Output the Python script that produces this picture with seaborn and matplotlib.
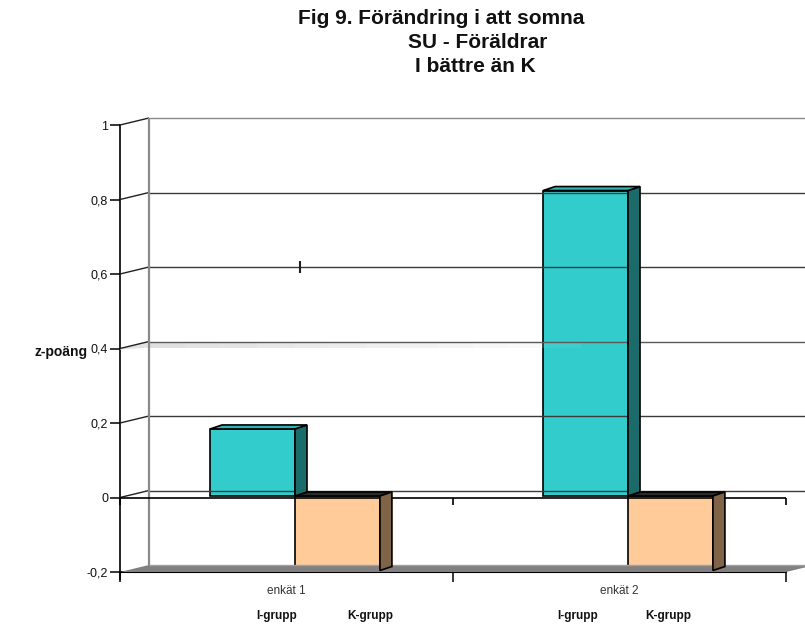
import numpy as np
import pandas as pd
import seaborn as sns
import matplotlib
matplotlib.use("Agg")
import matplotlib.pyplot as plt
from matplotlib.patches import Polygon
from matplotlib.lines import Line2D
from matplotlib.transforms import IdentityTransform, ScaledTranslation

# ---- data -------------------------------------------------------------
surveys = ["enkät 1", "enkät 2"]
groups = ["I-grupp", "K-grupp"]
i_grupp = [0.18, 0.82]
k_grupp = [-0.20, -0.20]
y_ticks = [-0.2, 0.0, 0.2, 0.4, 0.6, 0.8, 1.0]
y_tick_labels = ["-0,2", "0", "0,2", "0,4", "0,6", "0,8", "1"]
title_lines = ["Fig 9. Förändring i att somna", "SU - Föräldrar", "I bättre än K"]

df = pd.DataFrame({
    "enkät": surveys * 2,
    "grupp": [groups[0]] * 2 + [groups[1]] * 2,
    "z": i_grupp + k_grupp,
})

# ---- styling ----------------------------------------------------------
sns.set_theme(style="white")
plt.rcParams["font.family"] = ["Liberation Sans", "DejaVu Sans"]

front_cols = {"I-grupp": "#33CCCC", "K-grupp": "#FFCC99"}
side_cols = {"I-grupp": "#1C6B6B", "K-grupp": "#806448"}
top_cols = {"I-grupp": "#2DB5B5", "K-grupp": "#2A2A2A"}

DPI = 100
fig = plt.figure(figsize=(8.05, 6.27), dpi=DPI)
W, H = 805, 627
# front plane of the 3-D box
ax = fig.add_axes([120 / W, (H - 572) / H, 666 / W, 447 / H])

sns.barplot(data=df, x="enkät", y="z", hue="grupp", hue_order=groups,
            palette=[front_cols[g] for g in groups], width=0.51,
            edgecolor="black", linewidth=1.2, saturation=1,
            legend=False, ax=ax, zorder=3)
x0, x1 = -0.5, 1.5
ax.set_xlim(x0, x1)
ax.set_ylim(-0.2, 1.0)

# depth of the wall box and of the bars (pixels, right / up)
WALL_DX, WALL_DY = 29, 7
BAR_DX, BAR_DY = 12, 4
SHIFT_X = (WALL_DX - BAR_DX) / 2
SHIFT_Y = (WALL_DY - BAR_DY) / 2

fig.canvas.draw()
ident = IdentityTransform()


def px(x, y):
    return ax.transData.transform((x, y))


def poly(points, fc, ec="none", lw=0.0, z=1, alpha=1.0):
    p = Polygon(points, closed=True, facecolor=fc, edgecolor=ec, linewidth=lw,
                transform=ident, zorder=z, clip_on=False, joinstyle="miter",
                alpha=alpha)
    fig.add_artist(p)


def line(p0, p1, color, lw=1.0, z=1):
    fig.add_artist(Line2D([p0[0], p1[0]], [p0[1], p1[1]], color=color, lw=lw,
                          transform=ident, zorder=z, clip_on=False,
                          solid_capstyle="butt"))


# ---- walls, floor, gridlines -----------------------------------------
fl0, fl1 = px(x0, -0.2), px(x1, -0.2)
poly([fl0, fl1, fl1 + (WALL_DX, WALL_DY), fl0 + (WALL_DX, WALL_DY)], "#808080", z=1)
line(fl0 + (WALL_DX, WALL_DY), fl1 + (WALL_DX, WALL_DY), "#a0a0a0", 1.0, z=1.1)

for v in y_ticks[1:]:
    a, b = px(x0, v), px(x1, v)
    ba, bb = a + (WALL_DX, WALL_DY), b + (WALL_DX, WALL_DY)
    col = "#8a8a8a" if v == 1.0 else "#3a3a3a"
    if abs(v - 0.4) < 1e-9:
        # faint shaded strip on the 0,4 level, fading to the right
        poly([a, ba, ba + (0, -6), a + (0, -1)], "#e2e2e2", z=1)
        steps = 12
        for s in range(steps):
            xa = ba[0] + s * 36
            poly([(xa, ba[1]), (xa + 36, ba[1]), (xa + 36, ba[1] - 6), (xa, ba[1] - 6)],
                 "#dcdcdc", z=1, alpha=0.9 * (1 - s / steps))
        col = "#5a5a5a"
    line(ba, bb, col, 1.0, z=1.2)
    line(a, ba, "#202020", 1.0, z=1.2)

# back wall vertical edge
line(px(x0, -0.2) + (WALL_DX, WALL_DY), px(x0, 1.0) + (WALL_DX, WALL_DY), "#8a8a8a", 1.6, z=1.3)

# stray tick on the 0,6 gridline
sp = px(0.04, 0.6) + (0, WALL_DY)
line(sp + (0, -6), sp + (0, 6), "#202020", 1.5, z=1.3)

# front zero line of the category axis
z0, z1 = px(x0, 0.0), px(x1, 0.0)
line(z0, z1, "black", 1.2, z=1.4)
for xv in [x0, 0.5, 1.5]:
    t = px(xv, 0.0)
    line(t, t + (0, -7), "black", 1.2, z=1.4)

# ---- 3-D faces of the bars -------------------------------------------
offset = ScaledTranslation(SHIFT_X / DPI, SHIFT_Y / DPI, fig.dpi_scale_trans)
n = len(surveys)
d = np.array([BAR_DX, BAR_DY])
for k, patch in enumerate(ax.patches):
    g = groups[k // n]
    patch.set_transform(ax.transData + offset)
    patch.set_clip_on(False)
    xl, xr = patch.get_x(), patch.get_x() + patch.get_width()
    yb = min(patch.get_y(), patch.get_y() + patch.get_height())
    yt = max(patch.get_y(), patch.get_y() + patch.get_height())
    br = px(xr, yb) + (SHIFT_X, SHIFT_Y)
    tl = px(xl, yt) + (SHIFT_X, SHIFT_Y)
    tr = px(xr, yt) + (SHIFT_X, SHIFT_Y)
    if g == "I-grupp":
        patch.set_zorder(3.5)
        z_side, z_top = 3.6, 3.6
    else:
        patch.set_zorder(3.8)
        z_side, z_top = 3.7, 2.6
    poly([br, tr, tr + d, br + d], side_cols[g], "black", 1.2, z=z_side)
    poly([tl, tr, tr + d, tl + d], top_cols[g], "black", 1.2, z=z_top)

# ---- axes, ticks and labels ------------------------------------------
for s in ["top", "right"]:
    ax.spines[s].set_visible(False)
ax.spines["left"].set_color("black")
ax.spines["left"].set_linewidth(1.2)
ax.spines["left"].set_bounds(-0.219, 1.0)
ax.spines["bottom"].set_color("black")
ax.spines["bottom"].set_linewidth(1.5)
ax.spines["bottom"].set_zorder(1.5)
ax.set_facecolor("none")

ax.set_yticks(y_ticks)
ax.set_yticklabels(y_tick_labels, fontsize=9, color="#111111")
ax.set_xticks([x0, 0.5, 1.5])
ax.set_xticklabels(["", "", ""])
ax.tick_params(axis="both", which="major", direction="out", length=7, width=1.1,
               color="black", pad=1.5, left=True, bottom=True)
ax.set_xlabel("")
ax.set_ylabel("")

lab_shift = ax.transData + ScaledTranslation(0, -19 / DPI, fig.dpi_scale_trans)
for i, s in enumerate(surveys):
    ax.text(i, -0.2, s, transform=lab_shift, ha="center", va="center", fontsize=8.5,
            color="#333333", clip_on=False)

grp_shift = ax.transData + ScaledTranslation(0, -44 / DPI, fig.dpi_scale_trans)
group_label_x = [-0.03, 0.25, 0.875, 1.146]
for xv, lab in zip(group_label_x, groups * 2):
    ax.text(xv, -0.2, lab, ha="center", va="center", fontsize=8.5, fontweight="bold",
            color="#111111", clip_on=False, transform=grp_shift)

fig.text(61 / W, 1 - 352 / H, "z-poäng", ha="center", va="center", fontsize=10,
         fontweight="bold", color="#111111")

title_y = [18, 43, 67]
title_x = [441, 478, 475]
for tx, ty, tl in zip(title_x, title_y, title_lines):
    fig.text(tx / W, 1 - ty / H, tl, ha="center", va="center", fontsize=15,
             fontweight="bold", color="#111111")

fig.savefig("out.png", dpi=DPI)
